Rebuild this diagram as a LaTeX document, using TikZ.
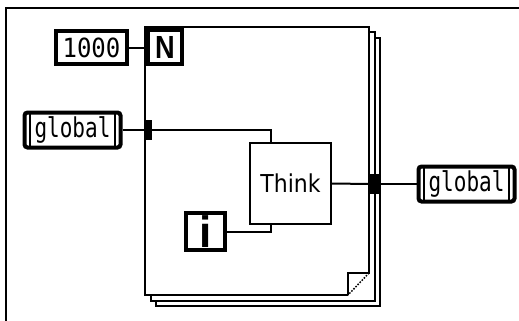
\documentclass[tikz,border=0pt]{standalone}
\usepackage{fontspec}
\setmainfont{DejaVu Sans}
\newfontfamily\monofont{DejaVu Sans Mono}
\newfontfamily\boldsans{Liberation Sans}
\usetikzlibrary{calc}
\begin{document}
\begin{tikzpicture}[x=1pt,y=-1pt,
  wire/.style={line width=2pt},
  frameline/.style={line width=2pt},
  thickbox/.style={draw, line width=4pt, fill=white, inner sep=0pt},
  numbox/.style={thickbox, minimum width=71pt, minimum height=33pt, font=\monofont\fontsize{24}{24}\selectfont},
  nbox/.style={thickbox, minimum width=34pt, minimum height=34pt, font=\boldsans\bfseries\fontsize{32}{32}\selectfont},
  ibox/.style={thickbox, minimum width=39pt, minimum height=37pt, font=\boldsans\bfseries\fontsize{44}{44}\selectfont},
  globalbox/.style={thickbox, rounded corners=3pt, minimum width=96pt, minimum height=35pt,
    font=\monofont\fontsize{21}{21}\selectfont,
    path picture={
      \draw[line width=1.2pt] ([xshift=5.5pt]path picture bounding box.north west) -- ([xshift=5.5pt]path picture bounding box.south west);
      \draw[line width=1.2pt] ([xshift=-5.5pt]path picture bounding box.north east) -- ([xshift=-5.5pt]path picture bounding box.south east);
    }},
  thinkbox/.style={draw, line width=2pt, fill=white, inner sep=0pt, minimum size=81pt, font=\fontsize{22}{22}\selectfont},
  tunnel/.style={fill=black, inner sep=0pt, outer sep=0pt}
]
\useasboundingbox (0,0) rectangle (519,321);
% outer window frame
\draw[line width=2.5pt] (6,321) -- (6,8) -- (519,8);
% stacked loop frames
\draw[frameline, fill=white] (156,38) rectangle (380,306);
\draw[frameline, fill=white] (150.5,32.5) rectangle (374.5,300.5);
\fill[white] (145,27) -- (369,27) -- (369,273) -- (348,295) -- (145,295) -- cycle;
\draw[frameline] (348,295) -- (145,295) -- (145,27) -- (369,27) -- (369,273) -- (348,273) -- (348,295);
\draw[line width=1.5pt, dash pattern=on 1.5pt off 1.5pt] (369,273) -- (348,295);
% nodes
\node[numbox] (n1000) at (91.5,48) {\scalebox{1}[1.1]{1000}};
\node[nbox] (N) at (165,47) {\scalebox{0.85}[1]{N}};
\node[globalbox] (gL) at (72.5,130) {\scalebox{1}[1.3]{global}};
\node[globalbox] (gR) at (466.5,184) {\scalebox{1}[1.3]{global}};
\node[thinkbox] (think) at (290.5,183.5) {\scalebox{1}[1.12]{Think}};
\node[ibox] (iter) at (205.5,231.5) {i};
\coordinate (thinkIn) at ($(think.north west)+(22,0)$);
\coordinate (thinkIn2) at ($(think.south west)+(22,0)$);
% wires
\draw[wire] (n1000.east) -- (n1000.east -| N.west);
\node[tunnel, minimum width=7pt, minimum height=20pt] (tL) at (148.5,130) {};
\node[tunnel, minimum width=11pt, minimum height=20pt] (tR) at (374.5,184) {};
\draw[wire] (gL.east) -- (tL.west);
\draw[wire] (tL.east) -| (thinkIn);
\draw[wire] (iter.east) -| (thinkIn2);
\draw[wire] (think.east) -- (tR.west);
\draw[wire] (tR.east) -- (gR.west);
\end{tikzpicture}
\end{document}
